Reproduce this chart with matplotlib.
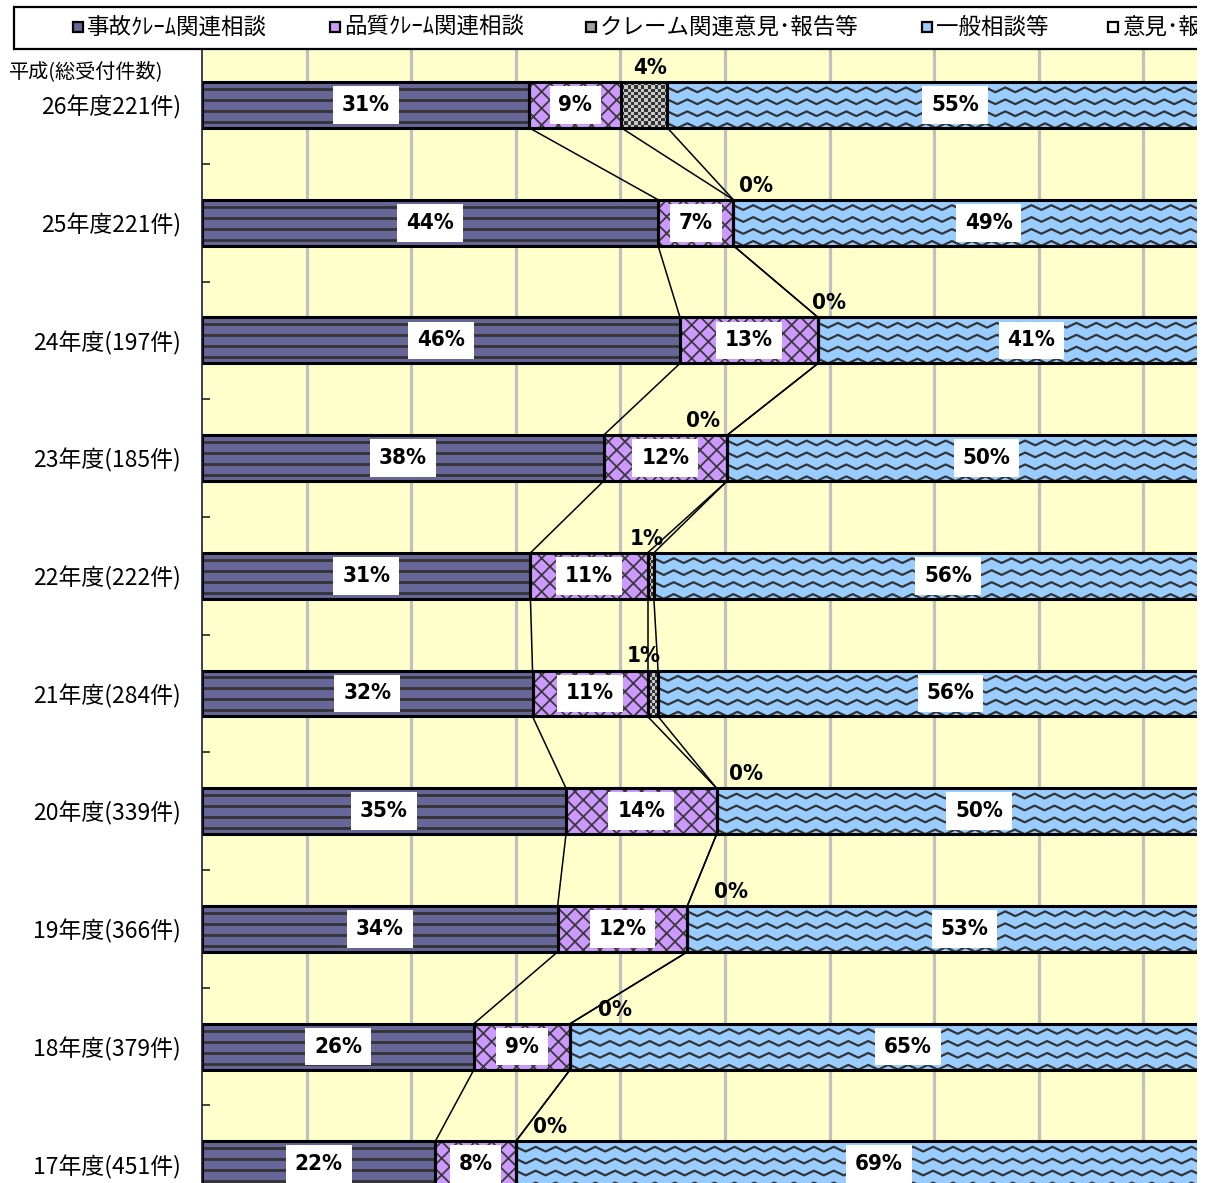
import numpy as np
import matplotlib
matplotlib.use('Agg')
import matplotlib.pyplot as plt
from matplotlib.patches import Rectangle
from matplotlib.colors import ListedColormap
from matplotlib.transforms import Bbox, TransformedBbox
from matplotlib import font_manager as fm

# ---------------- data ----------------
years = ['26年度221件)', '25年度221件)', '24年度(197件)', '23年度(185件)',
         '22年度(222件)', '21年度(284件)', '20年度(339件)', '19年度(366件)',
         '18年度(379件)', '17年度(451件)']
series_names = ['事故ｸﾚｰﾑ関連相談', '品質ｸﾚｰﾑ関連相談', 'クレーム関連意見･報告等',
                '一般相談等', '意見･報告等']
s1 = [31.3, 43.6, 45.7, 38.4, 31.4, 31.6, 34.8, 34.0, 26.0, 22.3]
s2 = [8.8, 7.2, 13.2, 11.8, 11.2, 11.0, 14.4, 12.4, 9.2, 7.7]
s3 = [4.4, 0.0, 0.0, 0.0, 0.6, 1.0, 0.0, 0.0, 0.0, 0.0]
s4 = [55.0, 48.8, 40.8, 49.6, 56.3, 55.9, 50.2, 53.0, 64.6, 69.4]
s5 = [0.5, 0.4, 0.3, 0.2, 0.5, 0.5, 0.6, 0.6, 0.2, 0.6]
# horizontal nudges of the small-series labels (percentage points)
s3_label_dx = [0.5, 2.2, 1.0, -2.3, -0.4, -0.9, 2.8, 4.2, 4.3, 3.3]

colors = ['#666699', '#CC99FF', '#A0A0A0', '#99CCFF', '#FFFFFF']

# ---------------- fonts ----------------
def has_family(n):
    try:
        fm.findfont(fm.FontProperties(family=n), fallback_to_default=False)
        return True
    except Exception:
        return False

NUM_FAMILY = ['Liberation Sans', 'DejaVu Sans']
NUM_STRETCH = 'normal'
NUM_SIZE = 16.5
if has_family('Liberation Sans Narrow'):
    NUM_FAMILY = ['Liberation Sans Narrow', 'DejaVu Sans']
    NUM_SIZE = 18
else:
    try:
        pth = fm.findfont(fm.FontProperties(family='DejaVu Sans', stretch='condensed',
                                            weight='bold'), fallback_to_default=False)
        if 'Condensed' in pth:
            NUM_FAMILY = ['DejaVu Sans', 'Noto Sans']
            NUM_STRETCH = 'condensed'
            NUM_SIZE = 16
    except Exception:
        pass

JP = ['Noto Sans CJK JP', 'DejaVu Sans']
plt.rcParams['font.family'] = JP
plt.rcParams['hatch.linewidth'] = 1.3

W, H = 1209, 1183
fig = plt.figure(figsize=(W / 100, H / 100), dpi=100)
fig.patch.set_facecolor('white')

def fx(x):
    return x / W

def fy(y):
    return 1 - y / H

ax_left, ax_right, ax_top, ax_bot = 202, 1197, 49, 1183
ax = fig.add_axes([fx(ax_left), fy(ax_bot), (ax_right - ax_left) / W, (ax_bot - ax_top) / H])
ax.set_facecolor('#FFFFCC')
XMAX = (ax_right - ax_left) / 10.46

n = len(years)
y = np.arange(n)
bh = 0.39
series = [s1, s2, s3, s4, s5]

# grid
for g in range(10, 100, 10):
    ax.axvline(g, color='#C0C0C0', lw=2.3, zorder=1)

lefts = np.zeros(n)
all_bars = []
cums = []
for k, s in enumerate(series):
    vals = np.array(s, dtype=float)
    bars = ax.barh(y, vals, left=lefts, height=bh, color=colors[k],
                   edgecolor='none', zorder=2)
    all_bars.append(bars)
    lefts = lefts + vals
    cums.append(lefts.copy())

def clip_rect(p):
    x0, y0, w, h = p.get_x(), p.get_y(), p.get_width(), p.get_height()
    return Rectangle((x0, y0), max(0.0, min(w, XMAX - x0)), h, transform=ax.transData)

# patterns
def stripes(p):
    x0, y0, w, h = p.get_x(), p.get_y(), p.get_width(), p.get_height()
    cr = clip_rect(p)
    for f in [0.15, 0.39, 0.63, 0.87]:
        ln, = ax.plot([x0, x0 + w], [y0 + f * h] * 2, color='#333333', lw=2.0,
                      zorder=3, solid_capstyle='butt')
        ln.set_clip_path(cr)

def cross(p):
    ov = Rectangle((p.get_x(), p.get_y()), p.get_width(), p.get_height(),
                   facecolor='none', edgecolor='#3a3a3a', lw=0, hatch='xx', zorder=3)
    ax.add_patch(ov)
    ov.set_clip_path(clip_rect(p))

checker_cmap = ListedColormap(['#C8C8C8', '#333333'])
def checker(p):
    x0, y0, w, h = p.get_x(), p.get_y(), p.get_width(), p.get_height()
    if w <= 0:
        return
    nx = max(1, int(round(w * 10.46 / 3.4)))
    ny = 14
    arr = (np.add.outer(np.arange(ny), np.arange(nx)) % 2).astype(float)
    im = ax.imshow(arr, extent=[x0, x0 + w, y0 + h, y0], cmap=checker_cmap,
                   interpolation='nearest', aspect='auto', zorder=3, vmin=0, vmax=1)
    im.set_clip_path(clip_rect(p))

def zigzag(p):
    x0, y0, w, h = p.get_x(), p.get_y(), p.get_width(), p.get_height()
    period = 1.9
    amp = 0.04
    xs = np.arange(x0 - period, x0 + w + period, period / 2)
    cr = clip_rect(p)
    for f in [0.17, 0.43, 0.69, 0.95]:
        yc = y0 + f * h
        ys = yc + np.where(np.arange(len(xs)) % 2 == 0, -amp / 2, amp / 2)
        ln, = ax.plot(xs, ys, color='#333333', lw=1.6, zorder=3)
        ln.set_clip_path(cr)

for p in all_bars[0]:
    stripes(p)
for p in all_bars[1]:
    cross(p)
for p in all_bars[2]:
    checker(p)
for p in all_bars[3]:
    zigzag(p)

# borders
lefts = np.zeros(n)
for k, s in enumerate(series):
    vals = np.array(s, dtype=float)
    ax.barh(y, vals, left=lefts, height=bh, fill=False, edgecolor='black',
            lw=2.2, zorder=4)
    lefts = lefts + vals

# series lines
for c in cums[:4]:
    for i in range(n - 1):
        ax.plot([c[i], c[i + 1]], [y[i] + bh / 2, y[i + 1] - bh / 2],
                color='black', lw=1.1, zorder=4)

# data labels
lefts = np.zeros(n)
for k, s in enumerate(series[:4]):
    for i in range(n):
        v = s[i]
        cx = lefts[i] + v / 2
        lab = '%d%%' % int(round(v))
        if k == 2:
            ax.text(cx + s3_label_dx[i], y[i] - 0.315, lab, ha='center', va='center',
                    fontsize=NUM_SIZE, fontweight='bold', family=NUM_FAMILY,
                    fontstretch=NUM_STRETCH, zorder=6, clip_on=True)
        else:
            ax.text(cx, y[i], lab, ha='center', va='center', fontsize=NUM_SIZE,
                    fontweight='bold', family=NUM_FAMILY, fontstretch=NUM_STRETCH,
                    zorder=6, clip_on=True,
                    bbox=dict(boxstyle='square,pad=0.4', facecolor='white',
                              edgecolor='none'))
    lefts = lefts + np.array(s)

ax.set_xlim(0, XMAX)
ax.set_ylim((ax_bot - 105) / 117.7, (ax_top - 105) / 117.7)
ax.set_xticks([])
ax.set_yticks(y)
ax.set_yticklabels(years, fontsize=16.5)
ax.set_yticks(y[:-1] + 0.5, minor=True)
ax.tick_params(axis='y', which='major', length=0, pad=15)
ax.tick_params(axis='y', which='minor', length=6, direction='in', width=1.2,
               color='#222222')
for sp in ['top', 'right', 'bottom']:
    ax.spines[sp].set_visible(False)
ax.spines['left'].set_color('#1a1a40')
ax.spines['left'].set_linewidth(1.2)
ax.spines['left'].set_zorder(5)

# header text
fig.text(fx(9), fy(72), '平成(総受付件数)', fontsize=14.5, ha='left', va='center')

# legend (cut off at the right edge of the picture, as in the source)
clipbox = TransformedBbox(Bbox([[0, 0], [ax_right / W, 1]]), fig.transFigure)
frame = Rectangle((fx(14), fy(49)), fx(1240) - fx(14), fy(7) - fy(49),
                  transform=fig.transFigure, facecolor='white',
                  edgecolor='black', lw=1.6, zorder=0)
frame.set_clip_box(clipbox)
fig.patches.append(frame)
leg_text_x = [87, 344, 600, 936, 1122]
for name, col, tx in zip(series_names, colors, leg_text_x):
    fig.patches.append(Rectangle((fx(tx - 14), fy(32)), 10 / W, 10 / H,
                                 transform=fig.transFigure, facecolor=col,
                                 edgecolor='black', lw=1.6, zorder=1))
    t = fig.text(fx(tx), fy(27), name, fontsize=16.2, ha='left', va='center')
    t.set_clip_box(clipbox)
    t.set_clip_on(True)

fig.savefig('out.png', dpi=100)
